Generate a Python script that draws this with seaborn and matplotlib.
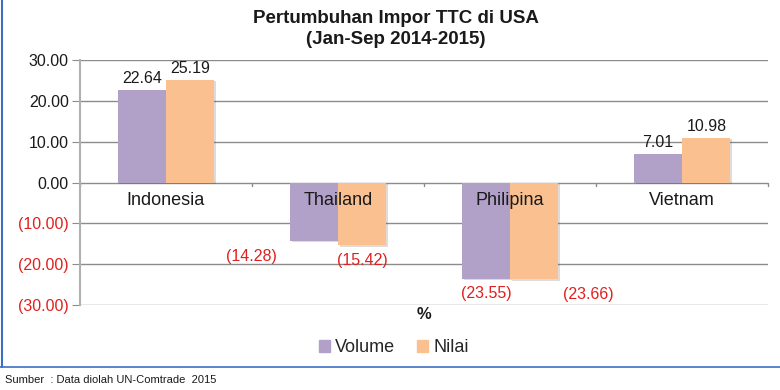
import numpy as np
import pandas as pd
import matplotlib
matplotlib.use('Agg')
import matplotlib.pyplot as plt
import matplotlib.patches as mpatches
import matplotlib.patheffects as pe
from matplotlib.lines import Line2D
import seaborn as sns

# ── data ─────────────────────────────────────────────────────
negara = ['Indonesia', 'Thailand', 'Philipina', 'Vietnam']
volume = [22.64, -14.28, -23.55, 7.01]
nilai = [25.19, -15.42, -23.66, 10.98]
seri = ['Volume', 'Nilai']
yticks = [30, 20, 10, 0, -10, -20, -30]

# label offsets (points) for the odd Excel label placement on negative bars
label_dx = {('Volume', 'Thailand'): -45, ('Nilai', 'Philipina'): 39}

UNGU = '#B1A0C7'
PEACH = '#FAC090'
MERAH = '#E0201E'
GRID = '#8C8C8C'
TEKS = '#1a1a1a'

df = pd.DataFrame({
    'Negara': negara * 2,
    'Jenis': ['Volume'] * 4 + ['Nilai'] * 4,
    'Nilai': volume + nilai,
})

sns.set_style('white')
plt.rcParams['font.family'] = ['Liberation Sans', 'DejaVu Sans']

fig = plt.figure(figsize=(7.8, 3.9), dpi=100)
ax = fig.add_axes([0.1025, 0.218, 0.8825, 0.628])

sns.barplot(data=df, x='Negara', y='Nilai', hue='Jenis', order=negara,
            hue_order=seri, palette=[UNGU, PEACH], width=0.56,
            saturation=1, errorbar=None, legend=False, ax=ax, zorder=3)

shadow = [pe.SimplePatchShadow(offset=(1.2, -1.2), alpha=0.18), pe.Normal()]
for p in ax.patches:
    p.set_linewidth(0)
    p.set_path_effects(shadow)

ax.set_xlim(-0.5, 3.5)
ax.set_ylim(-30, 30)
ax.set_yticks(yticks)
ax.set_yticklabels([f'{v:.2f}' if v >= 0 else f'({-v:.2f})' for v in yticks])
for t, v in zip(ax.get_yticklabels(), yticks):
    t.set_color(TEKS if v >= 0 else MERAH)
    t.set_fontsize(11.5)
ax.tick_params(axis='y', length=6, color=GRID, pad=2, left=True)

for v in yticks:
    ax.axhline(v, color=GRID, lw=1.0, zorder=1)

for s in ['top', 'right', 'bottom']:
    ax.spines[s].set_visible(False)
ax.spines['left'].set_color('#b0b0b0')
ax.spines['left'].set_linewidth(1.5)

# category labels just under the zero line, group separators as ticks
ax.set_xticks([])
ax.set_xlabel('')
ax.set_ylabel('')
for i, n in enumerate(negara):
    ax.annotate(n, (i, 0), xytext=(0, -13), textcoords='offset points',
                ha='center', va='center', fontsize=13, color=TEKS, zorder=6)
for b in np.arange(-0.5, 4.0, 1.0):
    ax.plot([b, b], [0, -0.9], color=GRID, lw=1.0, zorder=2, clip_on=False)

# data labels
for cont, nama in zip(ax.containers, seri):
    vals = volume if nama == 'Volume' else nilai
    for bar, n, v in zip(cont, negara, vals):
        xc = bar.get_x() + bar.get_width() / 2
        if v >= 0:
            ax.annotate(f'{v:.2f}', (xc, v), xytext=(0, 8),
                        textcoords='offset points', ha='center', va='center',
                        fontsize=11.5, color=TEKS, zorder=6)
        else:
            dx = label_dx.get((nama, n), 0)
            ax.annotate(f'({-v:.2f})', (xc, v), xytext=(dx, -11),
                        textcoords='offset points', ha='center', va='center',
                        fontsize=11.5, color=MERAH, zorder=6, annotation_clip=False)

# title, axis unit, legend, source
fig.text(0.507, 0.926, 'Pertumbuhan Impor TTC di USA\n(Jan-Sep 2014-2015)',
         ha='center', va='center', fontsize=13.5, fontweight='bold',
         linespacing=1.3, color=TEKS)
fig.text(0.543, 0.193, '%', ha='center', va='center', fontsize=12,
         fontweight='bold', color=TEKS)

handles = [mpatches.Patch(color=UNGU, label='Volume'),
           mpatches.Patch(color=PEACH, label='Nilai')]
fig.legend(handles=handles, loc='center', bbox_to_anchor=(0.505, 0.108),
           ncol=2, frameon=False, fontsize=13, handlelength=0.6,
           handleheight=0.6, handletextpad=0.3, columnspacing=1.2)

fig.text(0.007, 0.026, 'Sumber  : Data diolah UN-Comtrade  2015',
         ha='left', va='center', fontsize=8, color=TEKS)

# blue frame edges (left + bottom) of the pasted chart
fig.add_artist(Line2D([0.002, 0.002], [0.059, 1.0], color='#3F6EC4', lw=1.5,
                      transform=fig.transFigure))
fig.add_artist(Line2D([0.0, 1.0], [0.059, 0.059], color='#3F6EC4', lw=1.2,
                      transform=fig.transFigure))

fig.savefig('out.png', dpi=100, facecolor='white')
